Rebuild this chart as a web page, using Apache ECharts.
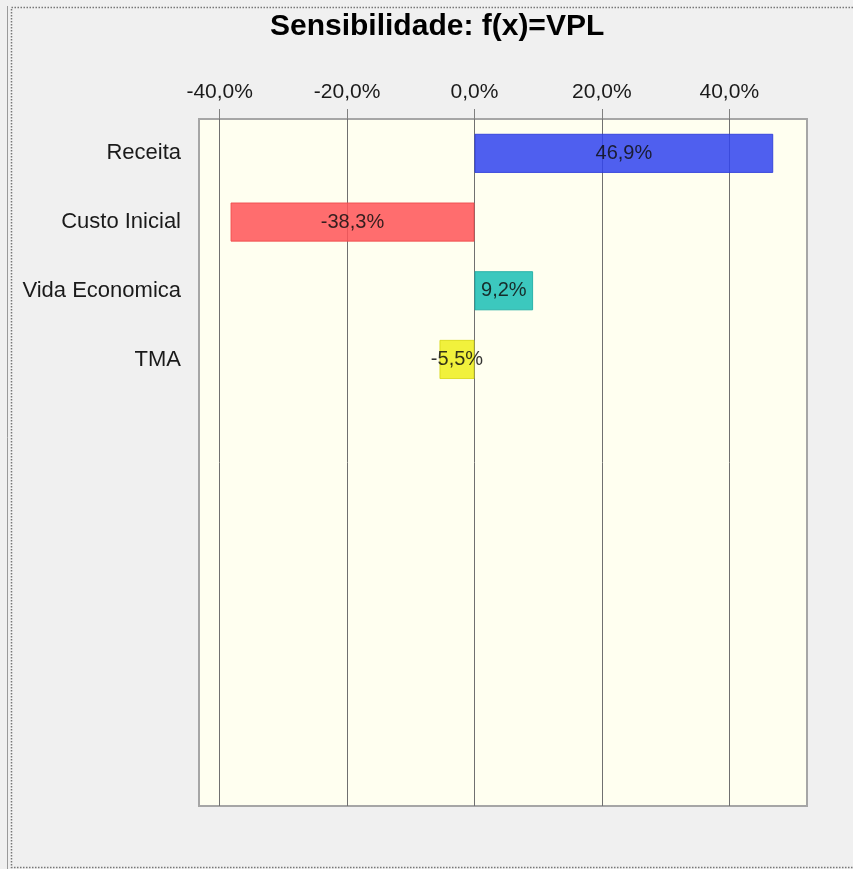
<!DOCTYPE html>
<html>
<head>
<meta charset="utf-8">
<script src="https://cdn.jsdelivr.net/npm/echarts@6/dist/echarts.min.js"></script>
<style>
  html, body { margin: 0; padding: 0; background: #f0f0f0; }
  #chart { width: 853px; height: 869px; }
</style>
</head>
<body>
<div id="chart"></div>
<script>
// Sensitivity of NPV (VPL) to each input variable
const categories = ['Receita', 'Custo Inicial', 'Vida Economica', 'TMA'];
const sensitivity = [46.9, -38.3, 9.2, -5.5];
const barColors = ['#3043ee', '#ff5457', '#1abeb5', '#eeee1c'];
const borderColors = ['#2a3ad8', '#ee4a4a', '#18aaa2', '#d8d818'];
const tickValues = [-40, -20, 0, 20, 40];
const slotCount = 10; // the axis reserves room for ten rows

const fmt = v => v.toFixed(1).replace('.', ',') + '%';

const axisData = categories.concat(Array(slotCount - categories.length).fill(''));

const chart = echarts.init(document.getElementById('chart'), null, { renderer: 'canvas' });

chart.setOption({
  backgroundColor: '#f0f0f0',
  animation: false,
  title: {
    text: 'Sensibilidade: f(x)=VPL',
    left: 270,
    top: 12,
    padding: 0,
    textStyle: { fontFamily: 'Liberation Sans', fontWeight: 'bold', fontSize: 30, color: '#000' }
  },
  graphic: [
    { type: 'line', shape: { x1: 7.5, y1: 6, x2: 7.5, y2: 869 }, style: { stroke: '#9a9a9a', lineWidth: 1 }, silent: true },
    { type: 'polyline', shape: { points: [[853, 7.5], [11.5, 7.5], [11.5, 867.5], [853, 867.5]] },
      style: { stroke: '#777', lineWidth: 1.5, lineDash: [1.5, 1.5], fill: null }, silent: true }
  ],
  grid: {
    left: 199, right: 46, top: 119, bottom: 63,
    show: true,
    backgroundColor: '#fffff0',
    borderColor: '#a6a6a6',
    borderWidth: 2,
    containLabel: false
  },
  xAxis: {
    type: 'value',
    position: 'top',
    min: -43.25,
    max: 52.2,
    axisLine: { show: false },
    axisTick: { show: true, length: 10, customValues: tickValues, lineStyle: { color: '#808080' } },
    axisLabel: {
      customValues: tickValues,
      margin: 16,
      fontFamily: 'Liberation Sans', fontSize: 21, color: '#1a1a1a',
      formatter: v => fmt(v)
    },
    splitLine: { show: true, lineStyle: { color: '#707070', width: 1 } }
  },
  yAxis: {
    type: 'category',
    inverse: true,
    data: axisData,
    axisLine: { show: false },
    axisTick: { show: false },
    axisLabel: { margin: 18, fontFamily: 'Liberation Sans', fontSize: 22, color: '#1a1a1a' },
    splitLine: { show: false }
  },
  series: [{
    type: 'bar',
    barWidth: '57%',
    data: sensitivity.map((v, i) => ({
      value: v,
      itemStyle: { color: barColors[i], borderColor: borderColors[i], borderWidth: 1, opacity: 0.85 }
    })),
    label: {
      show: true,
      position: 'inside',
      fontFamily: 'Liberation Sans', fontSize: 20, color: '#111',
      formatter: p => fmt(p.value)
    }
  }]
});
</script>
</body>
</html>
